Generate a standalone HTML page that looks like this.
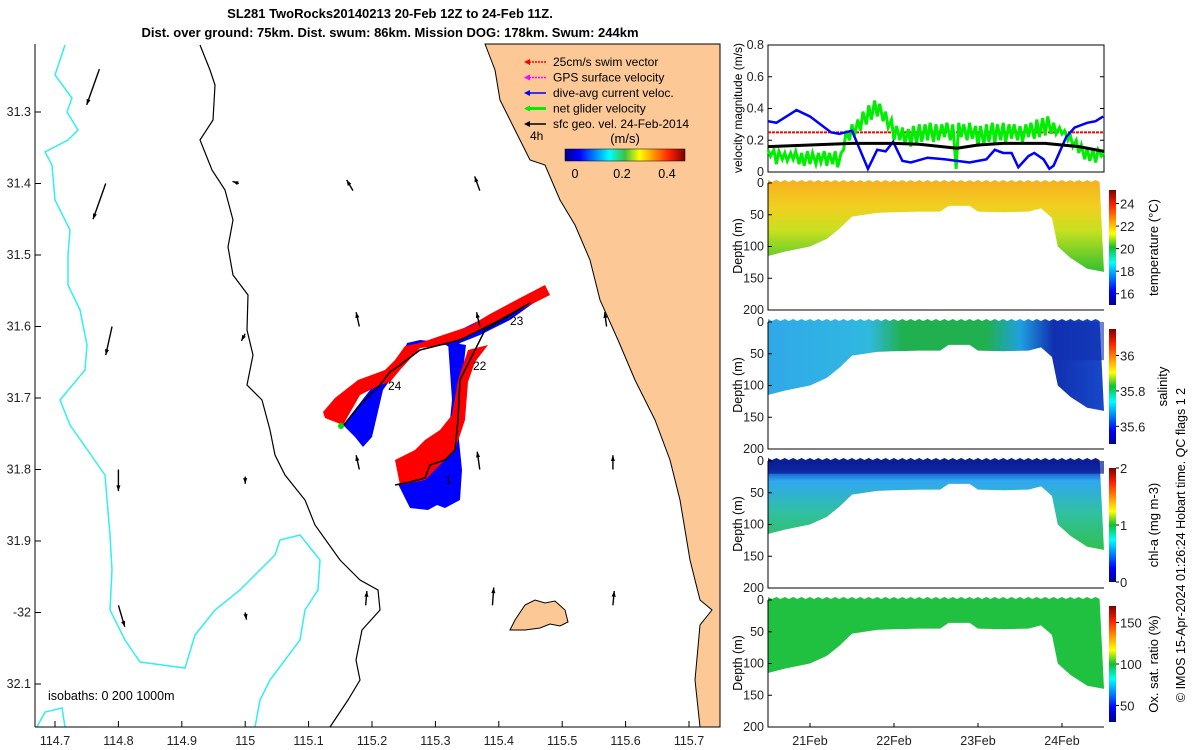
<!DOCTYPE html>
<html><head><meta charset="utf-8"><style>
body{margin:0;background:#fff;}
svg{display:block;font-family:"Liberation Sans",sans-serif;}
</style></head><body>
<svg id="s" width="1200" height="750" viewBox="0 0 1200 750">
<defs>
<linearGradient id="jet" x1="0" y1="0" x2="1" y2="0">
<stop offset="0" stop-color="#00008f"/><stop offset="0.12" stop-color="#0000ff"/><stop offset="0.37" stop-color="#00ffff"/><stop offset="0.5" stop-color="#40c040"/><stop offset="0.62" stop-color="#ffff00"/><stop offset="0.87" stop-color="#ff2000"/><stop offset="1" stop-color="#800000"/></linearGradient>
<linearGradient id="jetv" x1="0" y1="1" x2="0" y2="0">
<stop offset="0" stop-color="#00008f"/><stop offset="0.12" stop-color="#0000ff"/><stop offset="0.37" stop-color="#00ffff"/><stop offset="0.5" stop-color="#10c030"/><stop offset="0.62" stop-color="#ffff00"/><stop offset="0.87" stop-color="#ff2000"/><stop offset="1" stop-color="#800000"/></linearGradient>
<linearGradient id="gT" x1="0" y1="0" x2="0" y2="1"><stop offset="0" stop-color="#f6b020"/><stop offset="0.3" stop-color="#f0d020"/><stop offset="0.55" stop-color="#c8e020"/><stop offset="1" stop-color="#30c030"/></linearGradient>
<linearGradient id="gS" x1="0" y1="0" x2="1" y2="0"><stop offset="0" stop-color="#30a8e8"/><stop offset="0.3" stop-color="#30b8e0"/><stop offset="0.4" stop-color="#20b050"/><stop offset="0.65" stop-color="#20b050"/><stop offset="0.75" stop-color="#20a0e0"/><stop offset="0.85" stop-color="#1030b0"/><stop offset="1" stop-color="#1848c8"/></linearGradient>
<linearGradient id="gC" x1="0" y1="0" x2="0" y2="1"><stop offset="0" stop-color="#0a1a90"/><stop offset="0.12" stop-color="#1040c0"/><stop offset="0.25" stop-color="#30a8f0"/><stop offset="0.6" stop-color="#30c0a0"/><stop offset="1" stop-color="#30c050"/></linearGradient>
</defs>
<g id="map"></g>
<g id="right"></g>
</svg>
<script>
// ---------- Data ----------
const lonTicks=[114.7,114.8,114.9,115,115.1,115.2,115.3,115.4,115.5,115.6,115.7];
const latTicks=[31.3,31.4,31.5,31.6,31.7,31.8,31.9,32,32.1];
const latTickLabels=['31.3','31.4','31.5','31.6','31.7','31.8','31.9','-32','32.1'];
const arrowLon=[114.77,114.78,114.79,114.8,114.8,114.99,115.0,115.0,115.0,115.17,115.37,115.18,115.37,115.18,115.37,115.19,115.39,115.57,115.58,115.58];
const arrowLat=[31.24,31.4,31.6,31.8,31.99,31.4,31.61,31.81,32.0,31.41,31.41,31.6,31.6,31.8,31.8,31.99,31.99,31.6,31.8,31.99];
const arrowU=[-0.02,-0.02,-0.01,0,0.01,-0.01,-0.006,0,0.002,-0.01,-0.008,-0.005,-0.005,-0.005,-0.004,0.002,0.002,-0.003,0,0.002];
const arrowV=[-0.05,-0.05,-0.04,-0.03,-0.03,0.003,-0.01,-0.01,-0.01,0.015,0.02,0.02,0.02,0.02,0.025,0.02,0.025,0.02,0.02,0.02];
const tDays=[21,22,23,24];
const tLabels=['21Feb','22Feb','23Feb','24Feb'];
const blueT=[20.5,20.6,20.84,21.0,21.15,21.25,21.35,21.5,21.69,21.8,21.9,21.99,22.1,22.2,22.4,22.6,22.75,22.9,23.0,23.1,23.2,23.3,23.4,23.48,23.6,23.67,23.78,23.85,23.9,24.05,24.15,24.3,24.4,24.49];
const blueV=[0.32,0.31,0.39,0.35,0.29,0.25,0.24,0.26,0.02,0.14,0.13,0.19,0.07,0.06,0.09,0.08,0.07,0.06,0.07,0.08,0.14,0.12,0.12,0.03,0.1,0.12,0.08,0.02,0.04,0.22,0.28,0.31,0.32,0.35];
const greenT=[20.5,20.53,20.57,20.6,20.63,20.67,20.7,20.73,20.77,20.8,20.83,20.87,20.9,20.93,20.97,21.0,21.03,21.07,21.1,21.13,21.17,21.2,21.23,21.27,21.3,21.33,21.37,21.4,21.43,21.47,21.5,21.53,21.57,21.6,21.63,21.67,21.7,21.73,21.77,21.8,21.83,21.87,21.9,21.93,21.97,22.0,22.03,22.07,22.1,22.13,22.17,22.2,22.23,22.27,22.3,22.33,22.37,22.4,22.43,22.47,22.5,22.53,22.57,22.6,22.63,22.67,22.7,22.74,22.77,22.8,22.83,22.87,22.9,22.93,22.97,23.0,23.03,23.07,23.1,23.13,23.17,23.2,23.23,23.27,23.3,23.33,23.37,23.4,23.43,23.47,23.5,23.53,23.57,23.6,23.63,23.67,23.7,23.73,23.77,23.8,23.83,23.87,23.9,23.93,23.97,24.0,24.03,24.07,24.1,24.13,24.17,24.2,24.23,24.27,24.3,24.33,24.37,24.4,24.43,24.47,24.5];
const greenV=[0.14,0.1,0.14,0.05,0.13,0.08,0.12,0.07,0.12,0.08,0.13,0.05,0.12,0.04,0.13,0.05,0.12,0.05,0.12,0.06,0.13,0.04,0.12,0.05,0.13,0.03,0.12,0.14,0.26,0.2,0.3,0.23,0.33,0.26,0.38,0.3,0.42,0.33,0.45,0.35,0.43,0.32,0.38,0.28,0.33,0.2,0.29,0.2,0.28,0.18,0.27,0.16,0.29,0.18,0.3,0.19,0.3,0.2,0.31,0.19,0.3,0.2,0.3,0.22,0.31,0.2,0.3,0.02,0.31,0.22,0.3,0.2,0.31,0.21,0.29,0.16,0.29,0.17,0.3,0.19,0.31,0.18,0.3,0.2,0.31,0.19,0.3,0.21,0.3,0.2,0.29,0.19,0.3,0.22,0.31,0.21,0.33,0.22,0.34,0.23,0.35,0.24,0.31,0.24,0.28,0.24,0.26,0.2,0.23,0.16,0.2,0.12,0.17,0.08,0.15,0.07,0.14,0.06,0.14,0.1,0.12];
const blackT=[20.5,21.0,21.5,22.0,22.3,22.75,23.0,23.3,23.8,24.2,24.5];
const blackV=[0.16,0.17,0.18,0.18,0.175,0.15,0.17,0.18,0.18,0.16,0.13];
const redV=[0.25];
const bottomT=[20.5,20.7,21.0,21.2,21.35,21.5,21.8,22.0,22.3,22.55,22.65,22.9,23.0,23.3,23.6,23.75,23.88,23.95,24.1,24.3,24.5];
const bottomD=[115,108,100,88,72,53,47,46,45,45,36,36,45,46,45,40,55,100,118,135,140];
const depthTicks=[0,50,100,150,200];
const velTicks=[0,0.2,0.4,0.6,0.8];
const tempCb=[16,18,20,22,24], salCb=[35.6,35.8,36], chlCb=[0,1,2], oxCb=[50,100,150];

// ---------- helpers ----------
const NS='http://www.w3.org/2000/svg';
function mk(tag,attrs,parent,name,text){const e=document.createElementNS(NS,tag);for(const k in attrs)e.setAttribute(k,attrs[k]);


if(text!==undefined)e.textContent=text;parent.appendChild(e);return e;}
const map=document.getElementById('map'), right=document.getElementById('right');
const X=lon=>55+(lon-114.7)*634;
const Y=lat=>112+(lat-31.3)*715;

// ---------- map ----------
const svg=document.getElementById('s');
mk('text',{x:390,y:18,'font-size':'13','font-weight':'bold','text-anchor':'middle'},svg,'title-line-1','SL281 TwoRocks20140213 20-Feb 12Z to 24-Feb 11Z.');
mk('text',{x:390,y:37,'font-size':'13','font-weight':'bold','text-anchor':'middle'},svg,'title-line-2','Dist. over ground: 75km. Dist. swum: 86km. Mission DOG: 178km. Swum: 244km');
mk('polygon',{points:'485,44 495,70 500,100 515,130 530,160 545,165 560,200 575,225 590,260 600,300 618,340 635,380 655,420 670,460 680,500 690,560 700,600 712,610 700,625 695,680 700,727 720,727 720,44',fill:'#fbc896',stroke:'#000','stroke-width':1},map,'land');
mk('path',{d:'M515,620 L525,605 L535,600 L545,603 L555,601 L565,610 L568,622 L560,626 L550,624 L540,628 L525,630 L510,630 Z',fill:'#fbc896',stroke:'#000','stroke-width':1},map,'rottnest-island');
mk('polyline',{points:'65,45 55,75 72,98 67,112 78,130 68,140 45,152 52,165 55,200 70,230 68,255 68,285 80,310 87,345 85,370 60,400 70,425 105,475 110,535 112,570 110,610 125,640 140,662 185,668 195,635 215,610 240,590 265,565 275,555 280,540 300,535 320,560 318,590 305,610 300,640 270,680 260,700 255,727',fill:'none',stroke:'#33eeee','stroke-width':1.5},map,'isobath-1000m');
mk('polyline',{points:'37,727 45,712 62,708 65,727',fill:'none',stroke:'#33eeee','stroke-width':1.5},map,'isobath-1000m-small');
mk('polyline',{points:'200,45 210,70 215,85 213,120 200,140 212,170 225,190 233,220 228,247 233,275 248,295 247,330 253,355 247,385 262,400 270,430 275,455 285,475 305,500 315,525 340,560 360,580 378,590 380,610 362,630 356,660 360,680 348,700 330,727',fill:'none',stroke:'#000','stroke-width':1.2},map,'isobath-200m');
// tracks
mk('polygon',{points:'343,425 355,437 363,447 372,437 383,390 397,370 407,343 420,340 440,342 455,350 460,343 480,335 510,320 535,302 520,300 480,320 460,330 430,340 410,348 398,360 385,372 370,390',fill:'#0000ff'},map,'current-vector-fill-north');
mk('polygon',{points:'448,342 466,345 462,380 458,430 462,470 460,500 445,508 437,505 428,510 410,508 398,484 430,470 448,440 452,400',fill:'#0000ff'},map,'current-vector-fill-south');
mk('polygon',{points:'323,412 335,398 358,380 385,370 395,360 405,346 420,343 440,336 470,326 490,314 520,298 545,285 550,295 530,305 500,320 470,335 445,345 420,348 400,370 390,382 380,385 360,395 343,425 325,418',fill:'#ff0000'},map,'swim-vector-fill-north');
mk('polygon',{points:'395,460 415,450 425,440 440,430 452,415 458,380 468,350 488,345 475,362 468,382 465,420 455,450 435,470 425,480 400,485',fill:'#ff0000'},map,'swim-vector-fill-south');
mk('polyline',{points:'343,426 360,405 380,385 390,372 400,365 420,350 440,345 460,340 480,330 500,320 530,303 485,330 470,360 460,380 458,420 455,450 445,460 430,465 425,478 410,482 395,485',fill:'none',stroke:'#000','stroke-width':1.5},map,'glider-track');
mk('circle',{cx:341,cy:426,r:3,fill:'#00dd00'},map,'track-start-marker');
[['24',388,390],['22',473,370],['23',510,325],['1',445,484]].forEach(l=>{mk('text',{x:l[1],y:l[2],'font-size':'12'},map,'day-label',l[0]);});
// arrows
for(let i=0;i<arrowLon.length;i++){
  const x1=X(arrowLon[i]),y1=Y(arrowLat[i]),x2=X(arrowLon[i]+arrowU[i]),y2=Y(arrowLat[i]-arrowV[i]);
  const a=Math.atan2(y2-y1,x2-x1),h=6;
  const g=mk('g',{},map,'geo-velocity-arrow');
  mk('line',{x1:x1,y1:y1,x2:x2,y2:y2,stroke:'#000','stroke-width':1.4},g,'arrow-shaft');
  mk('polygon',{points:`${x2},${y2} ${x2-h*Math.cos(a-0.35)},${y2-h*Math.sin(a-0.35)} ${x2-h*Math.cos(a+0.35)},${y2-h*Math.sin(a+0.35)}`,fill:'#000'},g,'arrow-head');
}
// axes
mk('line',{x1:35,y1:44,x2:35,y2:727,stroke:'#000'},map,'map-y-axis');
mk('line',{x1:35,y1:727,x2:720,y2:727,stroke:'#000'},map,'map-x-axis');
lonTicks.forEach(v=>{const x=X(v);mk('line',{x1:x,y1:727,x2:x,y2:721,stroke:'#000'},map,'x-tick');
 mk('text',{x:x,y:745,'font-size':'12.5','text-anchor':'middle',fill:'#222'},map,'x-tick-label',String(v));});
latTicks.forEach((v,i)=>{const y=Y(v);mk('line',{x1:35,y1:y,x2:41,y2:y,stroke:'#000'},map,'y-tick');
 mk('text',{x:31,y:y+4,'font-size':'12.5','text-anchor':'end',fill:'#222'},map,'y-tick-label',latTickLabels[i]);});
mk('text',{x:48,y:700,'font-size':'12.5'},map,'isobath-label','isobaths: 0   200  1000m');
// legend
const leg=[['#ff0000','25cm/s swim vector'],['#ff00ff','GPS surface velocity'],['#0000ff','dive-avg current veloc.'],['#00ee00','net glider velocity'],['#000','sfc geo. vel. 24-Feb-2014']];
leg.forEach((l,i)=>{const y=62+i*15.5;const g=mk('g',{},map,'legend-entry');
 mk('line',{x1:526,y1:y,x2:546,y2:y,stroke:l[0],'stroke-width':i==3?3:1.5,'stroke-dasharray':i<2?'2,1':'none'},g,'legend-swatch');
 mk('polygon',{points:`${524},${y} ${530},${y-3} ${530},${y+3}`,fill:l[0]},g,'legend-arrowhead');
 mk('text',{x:553,y:y+4,'font-size':'12'},g,'legend-label',l[1]);});
mk('text',{x:530,y:140,'font-size':'12'},map,'time-label','4h');
mk('text',{x:625,y:143,'font-size':'13','text-anchor':'middle'},map,'colorbar-unit','(m/s)');
mk('rect',{x:565,y:149,width:120,height:12,fill:'url(#jet)',stroke:'#000','stroke-width':0.5},map,'speed-colorbar');
[[0,575],[0.2,622],[0.4,667]].forEach(t=>mk('text',{x:t[1],y:178,'font-size':'12.5','text-anchor':'middle'},map,'colorbar-tick',String(t[0])));

// ---------- right panels ----------
const PX0=768,PX1=1104;
const TX=t=>PX0+(t-20.5)*(PX1-PX0)/4;
const VY=v=>172-v*(172-45)/0.8;
mk('rect',{x:PX0,y:45,width:PX1-PX0,height:127,fill:'#fff',stroke:'#000'},right,'velocity-axes');
velTicks.forEach(v=>{mk('line',{x1:PX0,y1:VY(v),x2:PX0+4,y2:VY(v),stroke:'#000'},right,'vel-tick');
 mk('line',{x1:PX1,y1:VY(v),x2:PX1-4,y2:VY(v),stroke:'#000'},right,'vel-tick-right');
 mk('text',{x:PX0-4,y:VY(v)+4,'font-size':'12.5','text-anchor':'end',fill:'#222'},right,'vel-tick-label',String(v));});
mk('text',{x:0,y:0,'font-size':'12',transform:`translate(742,108) rotate(-90)`,'text-anchor':'middle'},right,'velocity-y-label','velocity magnitude (m/s)');
const pts=(T,V)=>T.map((t,i)=>TX(t)+','+VY(V[i])).join(' ');
mk('line',{x1:PX0,y1:VY(redV[0]),x2:PX1,y2:VY(redV[0]),stroke:'#ff0000','stroke-width':2,'stroke-dasharray':'3,1'},right,'swim-speed-line');
mk('polyline',{points:pts(greenT,greenV),fill:'none',stroke:'#00ee00','stroke-width':3},right,'net-glider-velocity-line');
mk('polyline',{points:pts(blueT,blueV),fill:'none',stroke:'#0000ff','stroke-width':2.5},right,'dive-avg-current-line');
mk('polyline',{points:pts(blackT,blackV),fill:'none',stroke:'#000','stroke-width':3},right,'geo-velocity-line');
const panels=[
 {top:183,fill:'url(#gT)',name:'temperature',label:'temperature (°C)',cb:tempCb,cmin:15,cmax:25.2,cbTop:190,cbBot:305},
 {top:322,fill:'url(#gS)',name:'salinity',label:'salinity',cb:salCb,cmin:35.5,cmax:36.15,cbTop:329,cbBot:444},
 {top:461,fill:'url(#gC)',name:'chlorophyll',label:'chl-a (mg m-3)',cb:chlCb,cmin:0,cmax:2,cbTop:468,cbBot:582},
 {top:600,fill:'#20c040',name:'oxygen',label:'Ox. sat. ratio (%)',cb:oxCb,cmin:30,cmax:170,cbTop:606,cbBot:722}];
panels.forEach(p=>{
 const g=mk('g',{},right,p.name+'-section');
 const DY=d=>p.top+d*127/200;
 mk('rect',{x:PX0,y:p.top,width:PX1-PX0,height:127,fill:'#fff'},g,'section-bg');
 let d='M'+TX(20.5)+','+(DY(0)-3);
 for(let t=20.5;t<=24.5;t+=0.1){d+=' L'+TX(t)+','+(DY(0)-3)+' L'+(TX(t)+4)+','+(DY(0)-1);}
 bottomT.slice().reverse().forEach((t,i)=>{d+=' L'+TX(t)+','+DY(bottomD[bottomD.length-1-i]);});
 mk('path',{d:d+'Z',fill:p.fill},g,p.name+'-data-fill');
 if(p.name==='salinity'){mk('rect',{x:TX(23.95),y:DY(0),width:TX(24.5)-TX(23.95),height:DY(60)-DY(0),fill:'#1030b0',opacity:0.6},g,'salinity-low-patch');}
 if(p.name==='chlorophyll'){mk('rect',{x:TX(20.5),y:DY(0),width:TX(24.5)-TX(20.5),height:DY(20)-DY(0),fill:'#0a1a90',opacity:0.7},g,'chl-surface-band');}
 mk('polyline',{points:`${PX0},${p.top} ${PX0},${p.top+127} ${PX1},${p.top+127}`,fill:'none',stroke:'#000'},g,'section-axes');
 depthTicks.forEach(v=>{mk('line',{x1:PX0,y1:DY(v),x2:PX0+4,y2:DY(v),stroke:'#000'},g,'depth-tick');
  mk('text',{x:PX0-4,y:DY(v)+4,'font-size':'12.5','text-anchor':'end',fill:'#222'},g,'depth-tick-label',String(v));});
 mk('text',{x:0,y:0,'font-size':'12.5',transform:`translate(742,${p.top+63}) rotate(-90)`,'text-anchor':'middle'},g,'depth-y-label','Depth (m)');
 mk('rect',{x:1109,y:p.cbTop,width:7,height:p.cbBot-p.cbTop,fill:'url(#jetv)'},g,p.name+'-colorbar');
 p.cb.forEach(v=>{const y=p.cbBot-(v-p.cmin)/(p.cmax-p.cmin)*(p.cbBot-p.cbTop);
  mk('line',{x1:1116,y1:y,x2:1119,y2:y,stroke:'#000'},g,'colorbar-tick');
  mk('text',{x:1120,y:y+5,'font-size':'13',fill:'#222'},g,'colorbar-tick-label',String(v));});
 const lx=p.name==='salinity'?1167:1158;
 mk('text',{x:0,y:0,'font-size':'13',transform:`translate(${lx},${(p.cbTop+p.cbBot)/2}) rotate(-90)`,'text-anchor':'middle'},g,p.name+'-label',p.label);
});
tDays.forEach((t,i)=>{mk('line',{x1:TX(t),y1:727,x2:TX(t),y2:723,stroke:'#000'},right,'time-tick');
 mk('text',{x:TX(t),y:745,'font-size':'12.5','text-anchor':'middle',fill:'#222'},right,'time-tick-label',tLabels[i]);});
mk('text',{x:0,y:0,'font-size':'12.5',transform:'translate(1185,545) rotate(-90)','text-anchor':'middle'},right,'credit-label','© IMOS 15-Apr-2024 01:26:24 Hobart time. QC flags 1  2');
</script>
</body></html>
